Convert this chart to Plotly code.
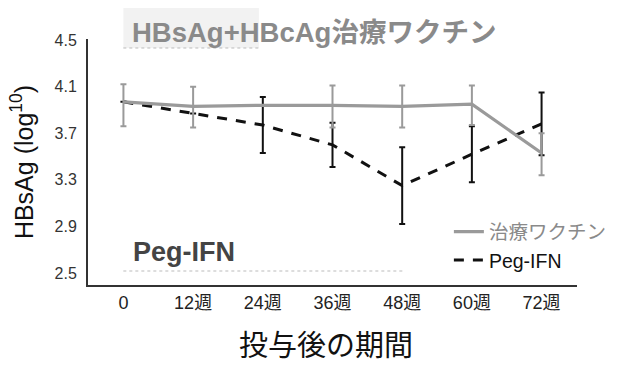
import plotly.graph_objects as go

# Weeks after dosing and their axis labels
weeks = [0, 12, 24, 36, 48, 60, 72]
week_labels = ["0", "12週", "24週", "36週", "48週", "60週", "72週"]

# Therapeutic vaccine arm (HBsAg, log10) with asymmetric error bars
vaccine_mean = [3.97, 3.93, 3.94, 3.94, 3.93, 3.95, 3.53]
vaccine_err_plus = [0.15, 0.17, None, 0.17, 0.18, 0.16, 0.17]
vaccine_err_minus = [0.21, 0.18, None, 0.19, 0.18, 0.18, 0.19]

# Peg-IFN arm
peg_mean = [3.97, 3.87, 3.77, 3.60, 3.25, 3.52, 3.78]
peg_err = [None, None, 0.24, 0.19, 0.33, 0.24, 0.27]

y_ticks = [2.5, 2.9, 3.3, 3.7, 4.1, 4.5]

LAT = "Liberation Sans, Arial, Noto Sans CJK JP, sans-serif"
CJK = "Noto Sans CJK JP, Liberation Sans, sans-serif"

# plot area in pixels: x 88..600, y 39..285
PX0, PX1, PY0, PY1 = 88, 600, 39, 285


def px(x):
    return (x - PX0) / (PX1 - PX0)


def py(y):
    return (PY1 - y) / (PY1 - PY0)


fig = go.Figure()

fig.add_trace(go.Scatter(
    x=weeks, y=peg_mean, mode="lines", name="Peg-IFN",
    line=dict(color="#111111", width=3, dash="10px,9px"),
    error_y=dict(type="data", array=peg_err, symmetric=True,
                 color="#111111", thickness=2, width=3),
    legendrank=2,
))

fig.add_trace(go.Scatter(
    x=weeks, y=vaccine_mean, mode="lines",
    name='<span style="color:#8a8a8a">治療ワクチン</span>',
    line=dict(color="#9a9a9a", width=3.2),
    error_y=dict(type="data", array=vaccine_err_plus, arrayminus=vaccine_err_minus,
                 symmetric=False, color="#9a9a9a", thickness=2, width=3),
    legendrank=1,
))

fig.update_layout(
    width=624, height=365,
    margin=dict(l=PX0, r=624 - PX1, t=PY0, b=365 - PY1),
    paper_bgcolor="white", plot_bgcolor="white",
    font=dict(family=LAT, color="#222222"),
    showlegend=True,
    legend=dict(x=0.738, y=0.295, xanchor="left", yanchor="top",
                bgcolor="rgba(0,0,0,0)", font=dict(size=19.5, family=LAT, color="#111111"),
                tracegroupgap=0),
    xaxis=dict(
        range=[-6.1, 78.1], tickmode="array", tickvals=weeks, ticktext=week_labels,
        showgrid=False, zeroline=False, showline=True, linecolor="#333333", linewidth=2,
        ticks="", tickfont=dict(size=18, family=LAT, color="#222222"), automargin=False,
    ),
    yaxis=dict(
        range=[2.397, 4.509], tickmode="array", tickvals=y_ticks,
        ticktext=[f"{v:.1f}" for v in y_ticks],
        showgrid=False, zeroline=False, showline=True, linecolor="#333333", linewidth=2,
        ticks="", ticklabelstandoff=6, tickfont=dict(size=16, family=LAT, color="#333333"),
        automargin=False,
        title=dict(text="HBsAg (log<sup>10</sup>)", font=dict(size=25, family=LAT, color="#111111"),
                   standoff=14),
    ),
)

# x-axis title
fig.add_annotation(text="投与後の期間", xref="paper", yref="paper",
                   x=px(337), y=py(343), xanchor="center", yanchor="middle",
                   showarrow=False, font=dict(size=29, family=CJK, color="#111111"))

# Speckled header panel behind the vaccine label
fig.add_shape(type="rect", xref="paper", yref="paper",
              x0=px(125), x1=px(267), y0=py(48), y1=py(8),
              fillcolor="rgba(0,0,0,0.05)", line=dict(width=0), layer="below")
fig.add_shape(type="line", xref="paper", yref="paper",
              x0=px(125), x1=px(267), y0=py(48), y1=py(48),
              line=dict(color="#bbbbbb", width=1, dash="dot"))

fig.add_annotation(text="<b>HBsAg+HBcAg治療ワクチン</b>", xref="paper", yref="paper",
                   x=px(132), y=py(33), xanchor="left", yanchor="middle",
                   showarrow=False, font=dict(size=27.5, family=LAT, color="#8a8a8a"))

# Peg-IFN label with faint dotted rule underneath
fig.add_annotation(text="<b>Peg-IFN</b>", xref="paper", yref="paper",
                   x=px(133), y=py(252), xanchor="left", yanchor="middle",
                   showarrow=False, font=dict(size=27, family=LAT, color="#444444"))
fig.add_shape(type="line", xref="paper", yref="paper",
              x0=px(125), x1=px(420), y0=py(271), y1=py(271),
              line=dict(color="#bbbbbb", width=1, dash="dot"))

fig.write_html("out.html")
